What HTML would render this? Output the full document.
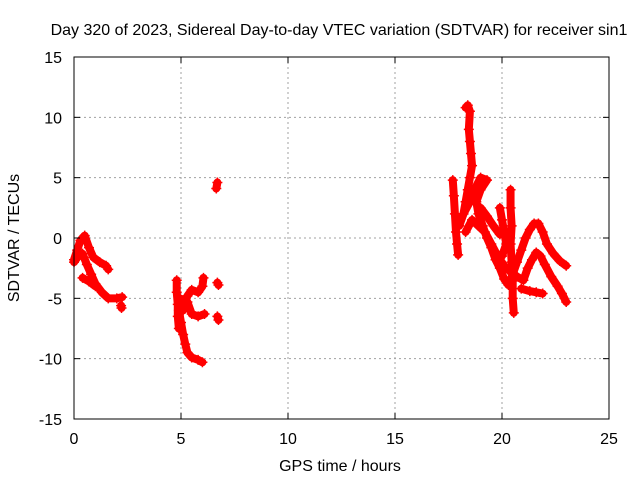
<!DOCTYPE html>
<html><head><meta charset="utf-8"><style>
body{margin:0;background:#fff}
svg text{font-family:"Liberation Sans",sans-serif;font-size:16px;fill:#000}
</style></head><body>
<svg id="chart" width="640" height="480">
<rect width="640" height="480" fill="#fff"/>
<text x="339" y="35" text-anchor="middle">Day 320 of 2023, Sidereal Day-to-day VTEC variation (SDTVAR) for receiver sin1</text>
<text x="340" y="471" text-anchor="middle">GPS time / hours</text>
<text transform="translate(19,238) rotate(-90)" text-anchor="middle">SDTVAR / TECUs</text>
<g id="grid"></g><g id="marks"></g><g id="axes"></g>
</svg>
<script>
const xTicks=[0,5,10,15,20,25];
const yTicks=[-15,-10,-5,0,5,10,15];
const trackX=[
[0,0.15,0.3,0.5,0.7,0.9,1.2,1.5,1.6],
[0,0.2,0.4,0.6,0.8,1.0,1.3,1.6,2.0,2.25],
[0.4,0.7,1.0],
[2.2,2.22],
[4.8,4.8,4.85,4.85,4.9],
[4.9,5.0,5.1,5.2,5.3,5.5,5.8,6.0],
[4.95,5.1,5.3,5.5,5.8,6.0,6.05],
[5.1,5.3,5.5,5.8,6.1],
[6.7,6.75],[6.7,6.75],[6.65,6.7],
[18.3,18.4,18.5,18.45,18.5,18.55,18.6,18.5,18.4,18.3,18.2],
[17.7,17.75,17.8,17.85,17.9,17.95],
[18.0,18.2,18.5,18.8,19.0,19.3,19.0,18.8,18.9,19.1,19.3,19.5,19.7,19.9,20.1,20.3,20.5,20.7,20.9,21.1,21.3,21.5,21.7,21.9,22.1,22.4,22.7,23.0],
[18.3,18.6,18.9,19.2,19.5,19.8,20.1,20.4,20.7,21.0,21.2,21.4,21.6,21.8,22.0,22.3,22.6,22.8,23.0],
[20.9,21.3,21.6,21.9],
[20.4,20.4,20.45,20.4,20.45,20.5,20.5,20.55],
[19.9,20.0,20.1,20.2,20.0],
[19.0,19.3,19.6,19.9]
];
const trackY=[
[-1.8,-1.0,-0.2,0.2,-0.8,-1.6,-2.0,-2.3,-2.6],
[-2.0,-1.5,-1.3,-2.2,-3.0,-3.8,-4.5,-5.0,-5.0,-4.9],
[-3.3,-3.6,-4.0],
[-5.6,-5.8],
[-3.5,-4.5,-5.5,-6.5,-7.5],
[-6,-7,-8,-8.8,-9.5,-9.9,-10.1,-10.3],
[-5,-5.5,-4.8,-4.3,-4.5,-4.0,-3.3],
[-6.0,-5.3,-6.3,-6.5,-6.3],
[-3.7,-3.9],[-6.5,-6.8],[4.1,4.6],
[10.8,11.0,10.5,9,8,7,6,5,4,3,2],
[4.8,3.5,2,0.5,-0.5,-1.4],
[1.0,2.0,3.0,4.3,5.0,4.8,4.0,3,2,1,0,-0.8,-1.8,-2.5,-3.4,-3.9,-3.0,-2.0,-1.0,0,0.7,1.2,1.2,0.5,-0.5,-1.3,-1.9,-2.3],
[0.5,1.5,1.0,0.5,-0.5,-1.5,-2.3,-2.8,-3.2,-3.5,-2.5,-1.8,-1.2,-1.5,-2.2,-3.2,-4.0,-4.6,-5.3],
[-4.2,-4.4,-4.5,-4.6],
[4.0,2.5,1,-0.5,-2,-3.5,-5,-6.2],
[2.5,1.5,0.5,-0.5,-1.5],
[2.5,1.8,1.0,0.3]
];
const X0=74,X1=609,Y0=419,Y1=57;
const sx=v=>X0+(v-0)/(25-0)*(X1-X0);
const sy=v=>Y0-(v+15)/30*(Y0-Y1);
const NS="http://www.w3.org/2000/svg";
const grid=document.getElementById('grid'),marks=document.getElementById('marks'),axes=document.getElementById('axes');
function mk(tag,attrs,parent){const e=document.createElementNS(NS,tag);for(const k in attrs)e.setAttribute(k,attrs[k]);parent.appendChild(e);return e;}
xTicks.forEach(t=>{
 const x=sx(t);
 if(t>0&&t<25){const g=mk('line',{x1:x,y1:Y1,x2:x,y2:Y0,stroke:'#a0a0a0','stroke-dasharray':'2,3'},grid);
 
 }
 mk('line',{x1:x,y1:Y0,x2:x,y2:Y0-6,stroke:'#000'},axes);
 mk('line',{x1:x,y1:Y1,x2:x,y2:Y1+6,stroke:'#000'},axes);
 const tx=mk('text',{x:x,y:Y0+25,'text-anchor':'middle'},axes);tx.textContent=t;
 
 
});
yTicks.forEach(t=>{
 const y=sy(t);
 if(t>-15&&t<15){const g=mk('line',{x1:X0,y1:y,x2:X1,y2:y,stroke:'#a0a0a0','stroke-dasharray':'2,3'},grid);
 
 }
 mk('line',{x1:X0,y1:y,x2:X0+6,y2:y,stroke:'#000'},axes);
 mk('line',{x1:X1,y1:y,x2:X1-6,y2:y,stroke:'#000'},axes);
 const tx=mk('text',{x:X0-12,y:y+6,'text-anchor':'end'},axes);tx.textContent=t;
 
 
});
const box=mk('rect',{x:X0,y:Y1,width:X1-X0,height:Y0-Y1,fill:'none',stroke:'#000'},axes);


trackX.forEach((xs,i)=>{
 const ys=trackY[i];
 const pts=xs.map((x,j)=>sx(x)+','+sy(ys[j])).join(' ');
 const pl=mk('polyline',{points:pts,fill:'none',stroke:'#f00','stroke-width':8,'stroke-linejoin':'round','stroke-linecap':'round'},marks);
 
 
 xs.forEach((x,j)=>{
  const cx=sx(x),cy=sy(ys[j]);
  const p=mk('path',{d:`M${cx-5},${cy}H${cx+5}M${cx},${cy-5}V${cy+5}`,stroke:'#f00','stroke-width':1.5},marks);
  
  
 });
});
</script>
</body></html>
